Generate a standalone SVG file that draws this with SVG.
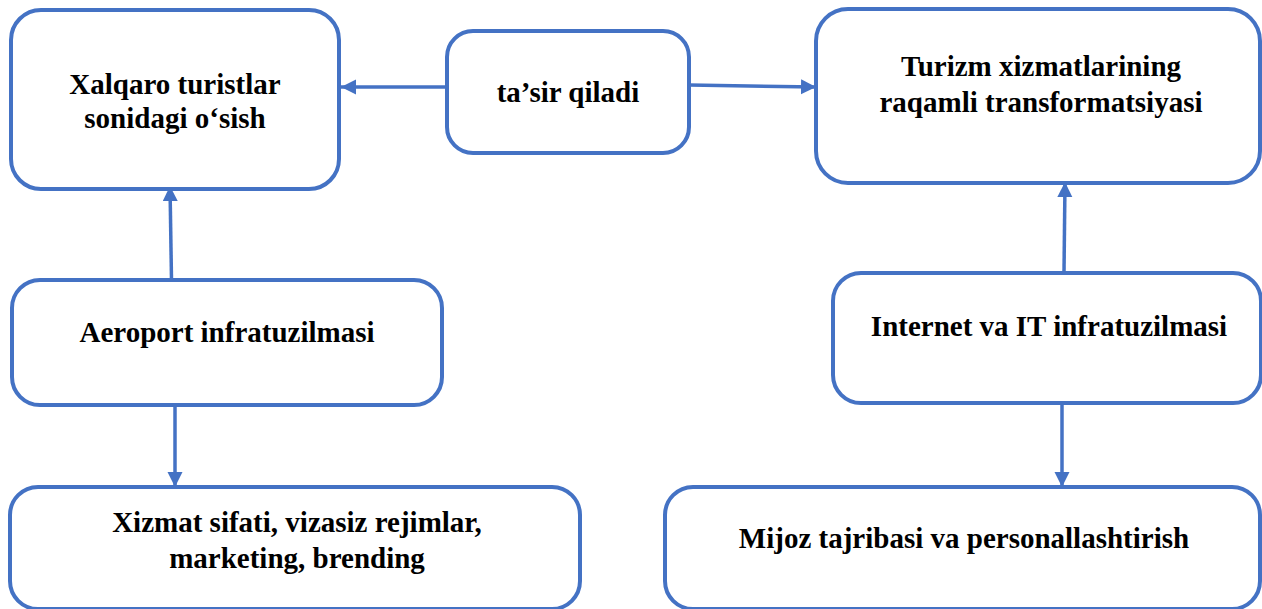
<svg xmlns="http://www.w3.org/2000/svg" width="1262" height="609" viewBox="0 0 1262 609">
<style>
.box{fill:#fff;stroke:#4472C4;stroke-width:4}
.lbl{font-family:"Liberation Serif","Times New Roman",serif;font-weight:bold;font-size:29px;fill:#000;text-anchor:middle}
.con{stroke:#4472C4;stroke-width:3.5;fill:none;marker-end:url(#ah)}
</style>
<defs>
<marker id="ah" markerUnits="userSpaceOnUse" markerWidth="16" markerHeight="16" refX="15" refY="7.5" orient="auto">
<path d="M0,0 L15,7.5 L0,15 z" fill="#4472C4"/>
</marker>
</defs>
<rect width="1262" height="609" fill="#fff"/>
<g id="connectors">
<line class="con" x1="445" y1="87" x2="341" y2="87"/>
<line class="con" x1="689" y1="85" x2="816" y2="87"/>
<line class="con" x1="171.5" y1="280" x2="170" y2="186"/>
<line class="con" x1="175" y1="405" x2="175" y2="487"/>
<line class="con" x1="1064" y1="273" x2="1065" y2="182"/>
<line class="con" x1="1062" y1="403" x2="1062" y2="487"/>
</g>
<g id="n1">
<rect class="box" x="11" y="10" width="328" height="179" rx="30"/>
<text class="lbl" x="175" y="94">Xalqaro turistlar</text>
<text class="lbl" x="175" y="128">sonidagi o‘sish</text>
</g>
<g id="n2">
<rect class="box" x="447" y="31" width="242" height="122" rx="26"/>
<text class="lbl" x="568" y="102">ta’sir qiladi</text>
</g>
<g id="n3">
<rect class="box" x="816" y="9" width="444" height="174" rx="32"/>
<text class="lbl" x="1041" y="76">Turizm xizmatlarining</text>
<text class="lbl" x="1041" y="112">raqamli transformatsiyasi</text>
</g>
<g id="n4">
<rect class="box" x="12" y="280" width="430" height="125" rx="28"/>
<text class="lbl" x="227" y="342">Aeroport infratuzilmasi</text>
</g>
<g id="n5">
<rect class="box" x="833" y="273" width="428" height="130" rx="28"/>
<text class="lbl" x="1049" y="336">Internet va IT infratuzilmasi</text>
</g>
<g id="n6">
<rect class="box" x="10" y="487" width="570" height="122" rx="28"/>
<text class="lbl" x="297" y="532">Xizmat sifati, vizasiz rejimlar,</text>
<text class="lbl" x="297" y="568">marketing, brending</text>
</g>
<g id="n7">
<rect class="box" x="665" y="487" width="595" height="122" rx="28"/>
<text class="lbl" x="964" y="548">Mijoz tajribasi va personallashtirish</text>
</g>
</svg>
